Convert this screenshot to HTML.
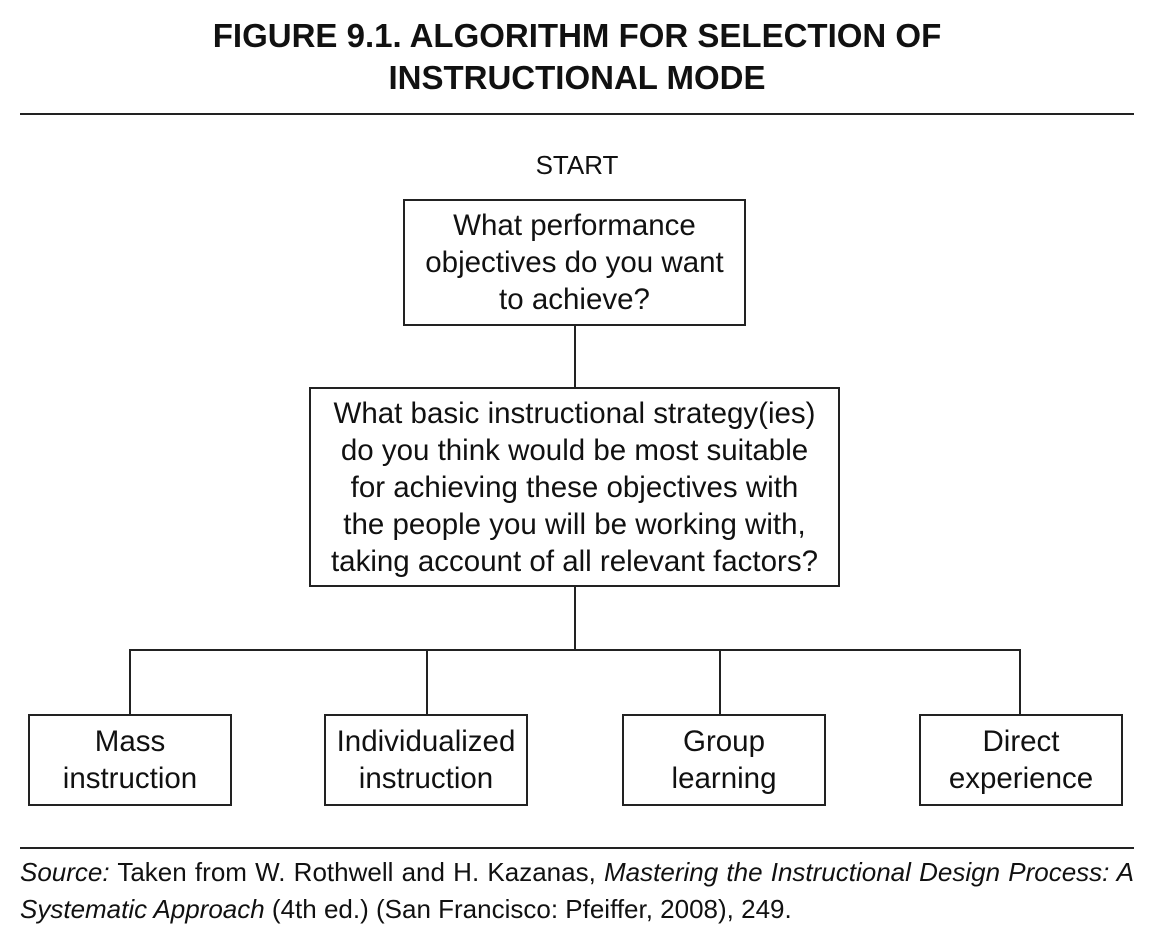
<!DOCTYPE html>
<html><head><meta charset="utf-8"><style>
body{margin:0;width:1154px;height:934px;background:#fff;position:relative;font-family:"Liberation Sans",sans-serif;color:#111;overflow:hidden}
.t{position:absolute;left:0;width:1154px;text-align:center;font-weight:bold;font-size:33px;line-height:42px}
.box{position:absolute;border:2px solid #222;box-sizing:border-box;display:flex;align-items:center;justify-content:center;text-align:center;font-size:29.5px;line-height:37px}
.l{position:absolute;background:#222}
.src{position:absolute;left:20px;width:1114px;font-size:26px;line-height:37px;white-space:nowrap}
</style></head><body>
<div class="t" style="top:15px">FIGURE 9.1. ALGORITHM FOR SELECTION OF</div>
<div class="t" style="top:57px">INSTRUCTIONAL MODE</div>
<div class="l" style="left:20px;top:113px;width:1114px;height:2px"></div>
<div style="position:absolute;left:0;width:1154px;top:150px;text-align:center;font-size:26px">START</div>
<div class="box" style="left:403px;top:199px;width:343px;height:127px">What performance<br>objectives do you want<br>to achieve?</div>
<div class="l" style="left:574px;top:325px;width:2px;height:63px"></div>
<div class="box" style="left:309px;top:387px;width:531px;height:200px">What basic instructional strategy(ies)<br>do you think would be most suitable<br>for achieving these objectives with<br>the people you will be working with,<br>taking account of all relevant factors?</div>
<div class="l" style="left:574px;top:586px;width:2px;height:65px"></div>
<div class="l" style="left:129px;top:649px;width:892px;height:2px"></div>
<div class="l" style="left:129px;top:649px;width:2px;height:66px"></div>
<div class="l" style="left:426px;top:649px;width:2px;height:66px"></div>
<div class="l" style="left:719px;top:649px;width:2px;height:66px"></div>
<div class="l" style="left:1019px;top:649px;width:2px;height:66px"></div>
<div class="box" style="left:28px;top:714px;width:204px;height:92px">Mass<br>instruction</div>
<div class="box" style="left:324px;top:714px;width:204px;height:92px">Individualized<br>instruction</div>
<div class="box" style="left:622px;top:714px;width:204px;height:92px">Group<br>learning</div>
<div class="box" style="left:919px;top:714px;width:204px;height:92px">Direct<br>experience</div>
<div class="l" style="left:20px;top:847px;width:1114px;height:2px"></div>
<div class="src" style="top:854px;text-align:justify;text-align-last:justify;white-space:normal"><i>Source:</i> Taken from W. Rothwell and H. Kazanas, <i>Mastering the Instructional Design Process: A</i></div>
<div class="src" style="top:891px"><i>Systematic Approach</i> (4th ed.) (San Francisco: Pfeiffer, 2008), 249.</div>
</body></html>
